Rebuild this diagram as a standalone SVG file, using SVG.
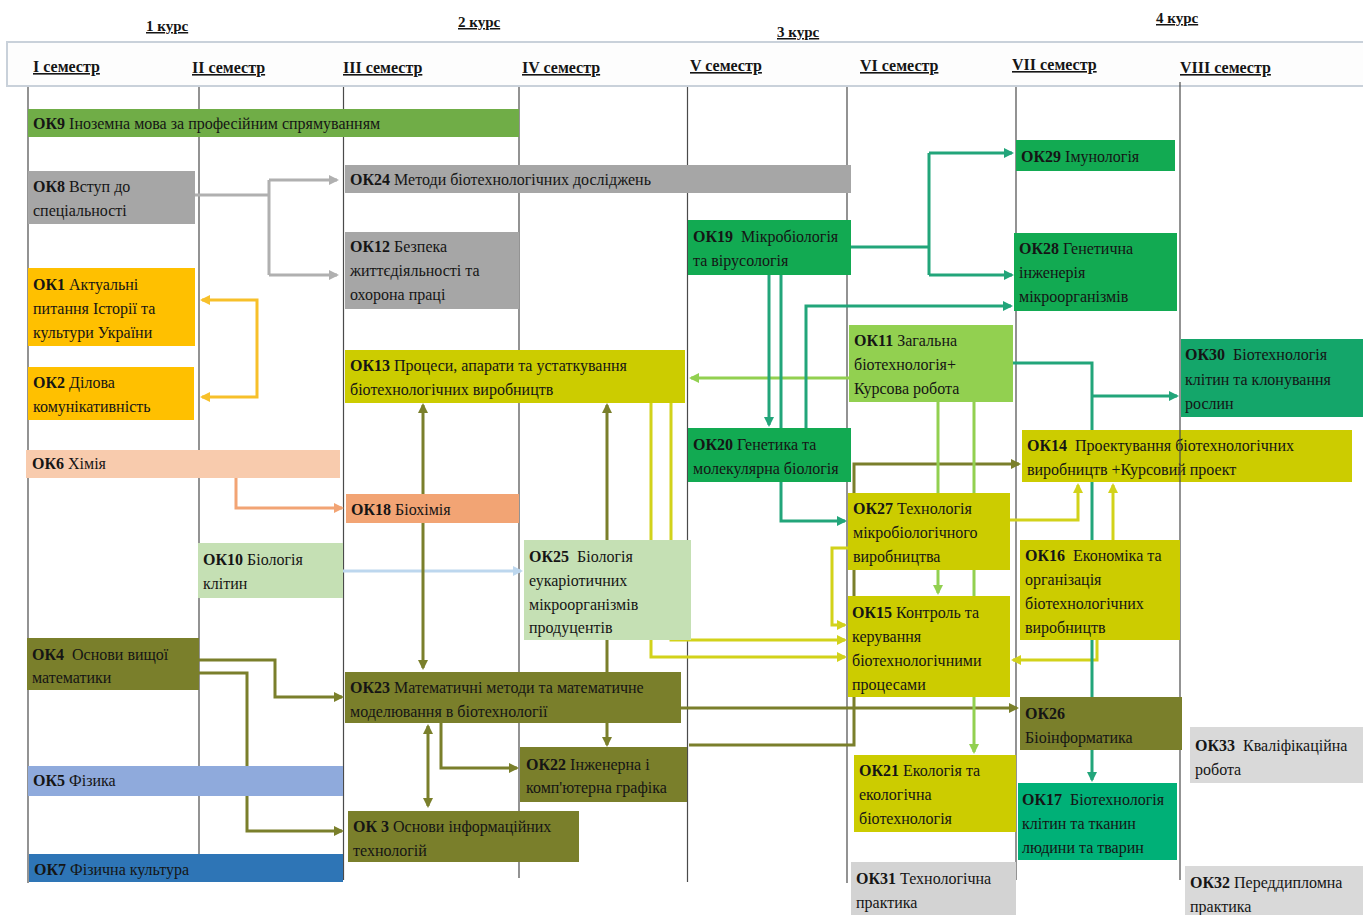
<svg xmlns="http://www.w3.org/2000/svg" width="1363" height="915" viewBox="0 0 1363 915">
<style>
.t{font-family:"Liberation Serif","Times New Roman",serif;font-size:16px;fill:#151515}
.b{font-weight:bold}
.hd{font-family:"Liberation Serif","Times New Roman",serif;font-weight:bold;text-decoration:underline;fill:#151515}
.sem{stroke:#4a4a4a;stroke-width:1.2}
.c{fill:none;stroke-width:3}
</style>
<defs>
<marker id="mGr" viewBox="0 0 10 10" refX="8" refY="5" markerWidth="10" markerHeight="10" markerUnits="userSpaceOnUse" orient="auto-start-reverse"><path d="M0,0 L10,5 L0,10 z" fill="#b0b0b0"/></marker>
<marker id="mYe" viewBox="0 0 10 10" refX="8" refY="5" markerWidth="10" markerHeight="10" markerUnits="userSpaceOnUse" orient="auto-start-reverse"><path d="M0,0 L10,5 L0,10 z" fill="#f7c02a"/></marker>
<marker id="mSa" viewBox="0 0 10 10" refX="8" refY="5" markerWidth="10" markerHeight="10" markerUnits="userSpaceOnUse" orient="auto-start-reverse"><path d="M0,0 L10,5 L0,10 z" fill="#f2a474"/></marker>
<marker id="mBl" viewBox="0 0 10 10" refX="8" refY="5" markerWidth="10" markerHeight="10" markerUnits="userSpaceOnUse" orient="auto-start-reverse"><path d="M0,0 L10,5 L0,10 z" fill="#bdd7ee"/></marker>
<marker id="mOl" viewBox="0 0 10 10" refX="8" refY="5" markerWidth="10" markerHeight="10" markerUnits="userSpaceOnUse" orient="auto-start-reverse"><path d="M0,0 L10,5 L0,10 z" fill="#7a7f2b"/></marker>
<marker id="mY2" viewBox="0 0 10 10" refX="8" refY="5" markerWidth="10" markerHeight="10" markerUnits="userSpaceOnUse" orient="auto-start-reverse"><path d="M0,0 L10,5 L0,10 z" fill="#d2d21a"/></marker>
<marker id="mLg" viewBox="0 0 10 10" refX="8" refY="5" markerWidth="10" markerHeight="10" markerUnits="userSpaceOnUse" orient="auto-start-reverse"><path d="M0,0 L10,5 L0,10 z" fill="#92d050"/></marker>
<marker id="mTe" viewBox="0 0 10 10" refX="8" refY="5" markerWidth="10" markerHeight="10" markerUnits="userSpaceOnUse" orient="auto-start-reverse"><path d="M0,0 L10,5 L0,10 z" fill="#22a57a"/></marker>
</defs>
<rect width="1363" height="915" fill="#ffffff"/>
<g id="header">
<rect x="7" y="42" width="1360" height="44" fill="#fdfdfd" stroke="#c9d1da" stroke-width="2"/>
<text class="hd" font-size="15" x="146" y="31">1 курс</text>
<text class="hd" font-size="15" x="458" y="27">2 курс</text>
<text class="hd" font-size="15" x="777" y="37">3 курс</text>
<text class="hd" font-size="15" x="1156" y="23">4 курс</text>
<text class="hd" font-size="16" x="33" y="72">I семестр</text>
<text class="hd" font-size="16" x="192" y="73">II семестр</text>
<text class="hd" font-size="16" x="343" y="73">III семестр</text>
<text class="hd" font-size="16" x="522" y="73">IV семестр</text>
<text class="hd" font-size="16" x="690" y="71">V семестр</text>
<text class="hd" font-size="16" x="860" y="71">VI семестр</text>
<text class="hd" font-size="16" x="1012" y="70">VII семестр</text>
<text class="hd" font-size="16" x="1180" y="73">VIII семестр</text>
</g>
<g id="semester-lines">
<line class="sem" x1="28" y1="87" x2="28" y2="883"/>
<line class="sem" x1="199" y1="87" x2="199" y2="880"/>
<line class="sem" x1="343.5" y1="87" x2="343.5" y2="880"/>
<line class="sem" x1="519" y1="87" x2="519" y2="878"/>
<line class="sem" x1="687.5" y1="87" x2="687.5" y2="882"/>
<line class="sem" x1="847" y1="87" x2="847" y2="883"/>
<line class="sem" x1="1016" y1="87" x2="1016" y2="880"/>
<line class="sem" x1="1180" y1="82" x2="1180" y2="880"/>
</g>
<g id="connectors">
<path class="c" stroke="#b0b0b0" d="M195,195 H269 M269,180 V275"/>
<path class="c" stroke="#b0b0b0" d="M269,180 H337" marker-end="url(#mGr)"/>
<path class="c" stroke="#b0b0b0" d="M269,275 H337" marker-end="url(#mGr)"/>
<path class="c" stroke="#f7c02a" d="M202,300 H257 V397 H202" marker-start="url(#mYe)" marker-end="url(#mYe)"/>
<path class="c" stroke="#f2a474" d="M236,478 V508 H342" marker-end="url(#mSa)"/>
<path class="c" stroke="#bdd7ee" d="M343,571 H521" marker-end="url(#mBl)"/>
<path class="c" stroke="#7a7f2b" d="M199,660 H275 V697 H342" marker-end="url(#mOl)"/>
<path class="c" stroke="#7a7f2b" d="M199,673 H247 V831 H342" marker-end="url(#mOl)"/>
<path class="c" stroke="#7a7f2b" d="M423,405 V668" marker-start="url(#mOl)" marker-end="url(#mOl)"/>
<path class="c" stroke="#7a7f2b" d="M607,405 V745" marker-start="url(#mOl)" marker-end="url(#mOl)"/>
<path class="c" stroke="#7a7f2b" d="M428,726 V806" marker-start="url(#mOl)" marker-end="url(#mOl)"/>
<path class="c" stroke="#7a7f2b" d="M441,723 V768 H517" marker-end="url(#mOl)"/>
<path class="c" stroke="#7a7f2b" d="M681,708 H1017" marker-end="url(#mOl)"/>
<path class="c" stroke="#7a7f2b" d="M689,745 H854 V464 H1019" marker-end="url(#mOl)"/>
<path class="c" stroke="#d2d21a" d="M651,403 V657 H845" marker-end="url(#mY2)"/>
<path class="c" stroke="#d2d21a" d="M671,403 V640 H845" marker-end="url(#mY2)"/>
<path class="c" stroke="#d2d21a" d="M1010,520 H1078 V485" marker-end="url(#mY2)"/>
<path class="c" stroke="#d2d21a" d="M1113,540 V485" marker-end="url(#mY2)"/>
<path class="c" stroke="#d2d21a" d="M1097,640 V660 H1013" marker-end="url(#mY2)"/>
<path class="c" stroke="#d2d21a" d="M848,548 H832 V625 H845" marker-end="url(#mY2)"/>
<path class="c" stroke="#92d050" d="M849,378 H691" marker-end="url(#mLg)"/>
<path class="c" stroke="#92d050" d="M938,402 V593" marker-end="url(#mLg)"/>
<path class="c" stroke="#92d050" d="M974,402 V752" marker-end="url(#mLg)"/>
<path class="c" stroke="#22a57a" d="M851,247 H929 M929,153 V275"/>
<path class="c" stroke="#22a57a" d="M929,153 H1012" marker-end="url(#mTe)"/>
<path class="c" stroke="#22a57a" d="M929,275 H1012" marker-end="url(#mTe)"/>
<path class="c" stroke="#22a57a" d="M769,275 V425" marker-end="url(#mTe)"/>
<path class="c" stroke="#22a57a" d="M781,275 V521 H845" marker-end="url(#mTe)"/>
<path class="c" stroke="#22a57a" d="M806,428 V306 H1011" marker-end="url(#mTe)"/>
<path class="c" stroke="#22a57a" d="M1013,363 H1092 V780" marker-end="url(#mTe)"/>
<path class="c" stroke="#22a57a" d="M1092,396 H1177" marker-end="url(#mTe)"/>
</g>
<g id="ok9"><rect x="28" y="109" width="491" height="28" fill="#70ad47"/><text class="t" x="33" y="129"><tspan class="b">ОК9</tspan> Іноземна мова за професійним спрямуванням</text></g>
<g id="ok8"><rect x="28" y="171" width="167" height="53" fill="#a6a6a6"/><text class="t"><tspan x="33" y="192"><tspan class="b">ОК8</tspan> Вступ до</tspan><tspan x="33" y="216">спеціальності</tspan></text></g>
<g id="ok24"><rect x="345" y="165" width="506" height="28" fill="#a6a6a6"/><text class="t" x="350" y="185"><tspan class="b">ОК24</tspan> Методи біотехнологічних досліджень</text></g>
<g id="ok12"><rect x="345" y="232" width="174" height="77" fill="#a6a6a6"/><text class="t"><tspan x="350" y="252"><tspan class="b">ОК12</tspan> Безпека</tspan><tspan x="350" y="276">життєдіяльності та</tspan><tspan x="350" y="300">охорона праці</tspan></text></g>
<g id="ok1"><rect x="28" y="268" width="167" height="78" fill="#ffc000"/><text class="t"><tspan x="33" y="290"><tspan class="b">ОК1</tspan> Актуальні</tspan><tspan x="33" y="314">питання Історії та</tspan><tspan x="33" y="338">культури України</tspan></text></g>
<g id="ok2"><rect x="28" y="367" width="166" height="53" fill="#ffc000"/><text class="t"><tspan x="33" y="388"><tspan class="b">ОК2</tspan> Ділова</tspan><tspan x="33" y="412">комунікативність</tspan></text></g>
<g id="ok6"><rect x="26" y="450" width="314" height="28" fill="#f8cbad"/><text class="t" x="32" y="469"><tspan class="b">ОК6</tspan> Хімія</text></g>
<g id="ok18"><rect x="346" y="494" width="173" height="29" fill="#f2a474"/><text class="t" x="351" y="515"><tspan class="b">ОК18</tspan> Біохімія</text></g>
<g id="ok13"><rect x="345" y="350" width="340" height="53" fill="#cccc00"/><text class="t"><tspan x="350" y="371"><tspan class="b">ОК13</tspan> Процеси, апарати та устаткування</tspan><tspan x="350" y="395">біотехнологічних виробництв</tspan></text></g>
<g id="ok10"><rect x="198" y="543" width="145" height="55" fill="#c5e0b4"/><text class="t"><tspan x="203" y="565"><tspan class="b">ОК10</tspan> Біологія</tspan><tspan x="203" y="589">клітин</tspan></text></g>
<g id="ok25"><rect x="524" y="540" width="167" height="100" fill="#c5e0b4"/><text class="t"><tspan x="529" y="562"><tspan class="b">ОК25</tspan><tspan dx="8">Біологія</tspan></tspan><tspan x="529" y="586">еукаріотичних</tspan><tspan x="529" y="610">мікроорганізмів</tspan><tspan x="529" y="633">продуцентів</tspan></text></g>
<g id="ok4"><rect x="27" y="638" width="172" height="52" fill="#7a7f2b"/><text class="t"><tspan x="32" y="660"><tspan class="b">ОК4</tspan><tspan dx="8">Основи вищої</tspan></tspan><tspan x="32" y="683">математики</tspan></text></g>
<g id="ok23"><rect x="345" y="672" width="336" height="51" fill="#7a7f2b"/><text class="t"><tspan x="350" y="693"><tspan class="b">ОК23</tspan> Математичні методи та математичне</tspan><tspan x="350" y="717">моделювання в біотехнології</tspan></text></g>
<g id="ok22"><rect x="520" y="747" width="167" height="55" fill="#7a7f2b"/><text class="t"><tspan x="526" y="770"><tspan class="b">ОК22</tspan> Інженерна і</tspan><tspan x="526" y="793">комп'ютерна графіка</tspan></text></g>
<g id="ok5"><rect x="28" y="766" width="315" height="30" fill="#8faadc"/><text class="t" x="33" y="786"><tspan class="b">ОК5</tspan> Фізика</text></g>
<g id="ok3"><rect x="348" y="811" width="231" height="51" fill="#7a7f2b"/><text class="t"><tspan x="353" y="832"><tspan class="b">ОК 3</tspan> Основи інформаційних</tspan><tspan x="353" y="856">технологій</tspan></text></g>
<g id="ok7"><rect x="29" y="854" width="314" height="28" fill="#2e75b6"/><text class="t" x="34" y="875"><tspan class="b">ОК7</tspan> Фізична культура</text></g>
<g id="ok19"><rect x="688" y="220" width="163" height="55" fill="#12aa52"/><text class="t"><tspan x="693" y="242"><tspan class="b">ОК19</tspan><tspan dx="8">Мікробіологія</tspan></tspan><tspan x="693" y="266">та вірусологія</tspan></text></g>
<g id="ok20"><rect x="688" y="428" width="163" height="54" fill="#12aa52"/><text class="t"><tspan x="693" y="450"><tspan class="b">ОК20</tspan> Генетика та</tspan><tspan x="693" y="474">молекулярна біологія</tspan></text></g>
<g id="ok29"><rect x="1016" y="140" width="159" height="31" fill="#12aa52"/><text class="t" x="1021" y="162"><tspan class="b">ОК29</tspan> Імунологія</text></g>
<g id="ok28"><rect x="1014" y="233" width="163" height="78" fill="#12aa52"/><text class="t"><tspan x="1019" y="254"><tspan class="b">ОК28</tspan> Генетична</tspan><tspan x="1019" y="278">інженерія</tspan><tspan x="1019" y="302">мікроорганізмів</tspan></text></g>
<g id="ok11"><rect x="849" y="325" width="164" height="77" fill="#92d050"/><text class="t"><tspan x="854" y="346"><tspan class="b">ОК11</tspan> Загальна</tspan><tspan x="854" y="370">біотехнологія+</tspan><tspan x="854" y="394">Курсова робота</tspan></text></g>
<g id="ok30"><rect x="1181" y="339" width="182" height="78" fill="#14a66a"/><text class="t"><tspan x="1185" y="360"><tspan class="b">ОК30</tspan><tspan dx="8">Біотехнологія</tspan></tspan><tspan x="1185" y="385">клітин та клонування</tspan><tspan x="1185" y="409">рослин</tspan></text></g>
<g id="ok14"><rect x="1022" y="430" width="330" height="52" fill="#cccc00"/><text class="t"><tspan x="1027" y="451"><tspan class="b">ОК14</tspan><tspan dx="8">Проектування біотехнологічних</tspan></tspan><tspan x="1027" y="475">виробництв +Курсовий проект</tspan></text></g>
<g id="ok27"><rect x="848" y="493" width="162" height="77" fill="#cccc00"/><text class="t"><tspan x="853" y="514"><tspan class="b">ОК27</tspan> Технологія</tspan><tspan x="853" y="538">мікробіологічного</tspan><tspan x="853" y="562">виробництва</tspan></text></g>
<g id="ok16"><rect x="1020" y="540" width="160" height="100" fill="#cccc00"/><text class="t"><tspan x="1025" y="561"><tspan class="b">ОК16</tspan><tspan dx="8">Економіка та</tspan></tspan><tspan x="1025" y="585">організація</tspan><tspan x="1025" y="609">біотехнологічних</tspan><tspan x="1025" y="633">виробництв</tspan></text></g>
<g id="ok15"><rect x="848" y="596" width="162" height="101" fill="#cccc00"/><text class="t"><tspan x="852" y="618"><tspan class="b">ОК15</tspan> Контроль та</tspan><tspan x="852" y="642">керування</tspan><tspan x="852" y="666">біотехнологічними</tspan><tspan x="852" y="690">процесами</tspan></text></g>
<g id="ok26"><rect x="1020" y="697" width="162" height="53" fill="#7a7f2b"/><text class="t"><tspan x="1025" y="719" class="b">ОК26</tspan><tspan x="1025" y="743">Біоінформатика</tspan></text></g>
<g id="ok21"><rect x="854" y="755" width="162" height="77" fill="#cccc00"/><text class="t"><tspan x="859" y="776"><tspan class="b">ОК21</tspan> Екологія та</tspan><tspan x="859" y="800">екологічна</tspan><tspan x="859" y="824">біотехнологія</tspan></text></g>
<g id="ok17"><rect x="1018" y="783" width="159" height="77" fill="#00b077"/><text class="t"><tspan x="1022" y="805"><tspan class="b">ОК17</tspan><tspan dx="8">Біотехнологія</tspan></tspan><tspan x="1022" y="829">клітин та тканин</tspan><tspan x="1022" y="853">людини та тварин</tspan></text></g>
<g id="ok33"><rect x="1190" y="727" width="173" height="56" fill="#d9d9d9"/><text class="t"><tspan x="1195" y="751"><tspan class="b">ОК33</tspan><tspan dx="8">Кваліфікаційна</tspan></tspan><tspan x="1195" y="775">робота</tspan></text></g>
<g id="ok31"><rect x="851" y="862" width="165" height="53" fill="#d3d3d3"/><text class="t"><tspan x="856" y="884"><tspan class="b">ОК31</tspan> Технологічна</tspan><tspan x="856" y="908">практика</tspan></text></g>
<g id="ok32"><rect x="1185" y="866" width="178" height="49" fill="#d9d9d9"/><text class="t"><tspan x="1190" y="888"><tspan class="b">ОК32</tspan> Переддипломна</tspan><tspan x="1190" y="912">практика</tspan></text></g>
<line class="sem" x1="1180" y1="430" x2="1180" y2="482"/>
</svg>
